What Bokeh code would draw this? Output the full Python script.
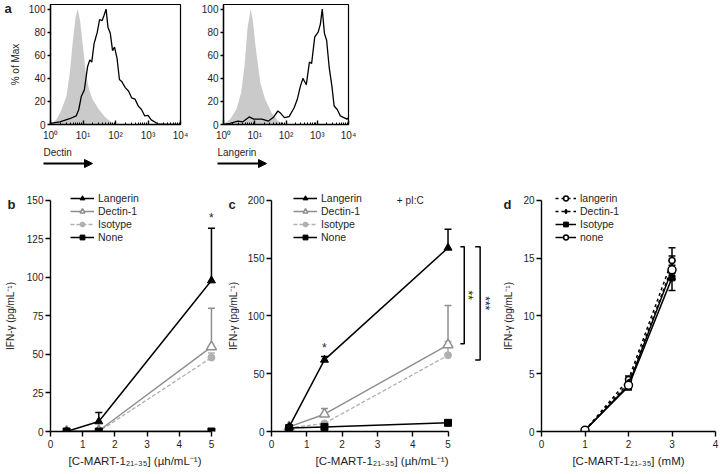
from bokeh.plotting import figure
from bokeh.models import (ColumnDataSource, Whisker, TeeHead, Legend, LegendItem,
                          Arrow, NormalHead, FixedTicker, Range1d)
from bokeh.layouts import column, row
from bokeh.embed import file_html
from bokeh.resources import INLINE
from bokeh.core.properties import value
from math import pi

FONT = "Liberation Sans"

# ---------------- panel a : histograms (x in fluorescence units, y in % of max)
dectin_iso_x = [1.0, 1.10, 1.55, 2.19, 3.09, 3.89, 4.90, 5.89, 6.92, 8.13, 9.77, 12.3, 15.5, 19.5, 30.9, 49.0, 77.6, 112]
dectin_iso_y = [0, 0.6, 4.6, 13, 24.5, 44, 73, 93, 100, 90, 70, 44, 30, 22, 13, 6, 1.7, 0]
dectin_st_x = [1.0, 1.95, 3.89, 6.17, 7.41, 8.91, 11.0, 13.8, 16.2, 18.6, 21.9, 27.5, 32.4, 38.9, 43.7, 51.3,
               58.9, 69.2, 81.3, 93.3, 112, 132, 158, 200, 251, 316, 398, 501, 631, 794, 1000, 1259, 1995, 3981, 10000]
dectin_st_y = [0.9, 2.3, 5, 7.4, 13, 24.5, 30, 50, 56, 54, 70, 80, 91, 90, 94, 100,
               84, 79, 64, 67, 57, 39, 37, 32, 29, 23, 22, 16, 13, 7.4, 8, 4, 0.6, 0, 0]
lang_iso_x = [1.0, 1.12, 1.62, 2.57, 3.63, 4.68, 5.89, 7.41, 8.71, 10.7, 15.1, 21.4, 34.7, 55.0, 89.1]
lang_iso_y = [0, 1, 4.6, 13, 27, 50, 84, 100, 90, 67, 36, 22, 10, 3, 0]
lang_st_x = [1.0, 1.62, 2.88, 4.17, 6.61, 9.33, 17.0, 27.5, 38.9, 55.0, 67.6, 89.1, 126, 182, 229, 288, 347,
             447, 562, 661, 832, 1072, 1259, 1445, 1698, 1995, 2399, 2951, 3467, 4365, 5495, 7079, 8913, 10000]
lang_st_y = [0, 1, 3, 2.3, 6.6, 4.6, 4.6, 3, 6, 11.7, 9.7, 6, 6.8, 14.5, 21.6, 33, 40,
             34.5, 54, 53, 76, 80, 87, 100, 79, 73, 50, 33, 16, 13, 7.4, 6, 4.6, 6]
hist_xticks = [1, 10, 100, 1000, 10000]
hist_xlabels = ["10\u2070", "10\u00b9", "10\u00b2", "10\u00b3", "10\u2074"]
hist_yticks = [0, 20, 40, 60, 80, 100]
hist_markers = ["Dectin", "Langerin"]

# ---------------- panels b, c : IFN-gamma vs peptide concentration
conc = [0.5, 1.5, 5]
series = ["Langerin", "Dectin-1", "Isotype", "None"]
b_lang = [0, 6.5, 98];   b_lang_err = [0, 5.8, 34]
b_dect = [0, 0.5, 55];   b_dect_err = [0, 0, 25]
b_iso = [0, 0, 48];      b_iso_err = [0, 0, 3]
b_none = [0, 0, 0]
c_lang = [4, 62, 159];   c_lang_err = [0, 3, 16]
c_dect = [4, 15, 75];    c_dect_err = [0, 5, 34]
c_iso = [3, 7, 66];      c_iso_err = [0, 0, 12]
c_none = [3, 4, 7.5]
bc_xticks = [0, 1, 2, 3, 4, 5]
b_yticks = [0, 25, 50, 75, 100, 125, 150]
c_yticks = [0, 50, 100, 150, 200]

# ---------------- panel d
conc_d = [1, 2, 3]
d_series = ["langerin", "Dectin-1", "Isotype", "none"]
d_lang = [0.1, 4.5, 14.8];  d_lang_err = [0, 0.3, 1.1]
d_dect = [0.1, 4.2, 14.2];  d_dect_err = [0, 0.3, 1.0]
d_iso = [0.1, 3.9, 13.3];   d_iso_err = [0, 0.3, 1.1]
d_none = [0.1, 4.0, 14.0];  d_none_err = [0, 0.3, 0.8]
d_xticks = [0, 1, 2, 3, 4]
d_yticks = [0, 5, 10, 15, 20]

YLAB = "IFN-\u03b3 (pg/mL\u207b\u00b9)"
XLAB_BC = "[C-MART-1\u2082\u2081\u208b\u2083\u2085] (\u00b5h/mL\u207b\u00b9)"
XLAB_D = "[C-MART-1\u2082\u2081\u208b\u2083\u2085] (mM)"

TXT = "#1e1e1e"
GRAY = "#8f8f8f"
LGRAY = "#b0b0b0"
TICK_FS = "10px"

# layout (pixels)
ROW1_H, ARROW_H, ROW2_H = 143, 27, 299
FRAME1_TOP, FRAME1_H = 4, 121
FRAME2_TOP, FRAME2_H = 22, 240          # frame of lower panels inside their canvas
AXIS_SPAN2 = 232                         # pixels from 0 to top tick of lower panels
ROW2_Y0 = ROW1_H + ARROW_H               # page y where the lower row starts


def style_axis(ax):
    ax.major_label_text_font = FONT
    ax.major_label_text_font_size = TICK_FS
    ax.major_label_text_color = TXT
    ax.axis_label_text_font = FONT
    ax.axis_label_text_font_size = "11.5px"
    ax.axis_label_text_font_style = "normal"
    ax.axis_label_text_color = TXT
    ax.axis_line_width = 1.4
    ax.major_tick_line_width = 1.4
    ax.minor_tick_line_color = None


def blank_fig(w, h, y_top, y_bottom):
    """Text-only strip; its frame is aligned with the row's plot frames (page y from y_top to y_bottom).
    Data y = -(page y) so that positions read in page pixels."""
    p = figure(width=w, height=h, x_range=Range1d(0, w), y_range=Range1d(-y_bottom, -y_top), title=None,
               output_backend="svg", toolbar_location=None,
               x_axis_location=None, y_axis_location=None, min_border=0)
    p.outline_line_color = None
    p.grid.visible = False
    return p


def put_text(p, x, page_y, text, size="10px", bold=False, angle=0, align="left", baseline="middle"):
    p.text(x=[x], y=[-page_y], text=[text], angle=angle, text_align=align, text_baseline=baseline,
           text_font=value(FONT), text_font_size=size, text_color=TXT,
           text_font_style="bold" if bold else "normal")


def hist_fig(width, left, right, iso_x, iso_y, st_x, st_y):
    p = figure(width=width, height=ROW1_H, x_axis_type="log", x_range=Range1d(1, 10000),
               y_range=Range1d(0, 104), output_backend="svg", toolbar_location=None,
               min_border_left=left, min_border_right=right, min_border_top=FRAME1_TOP,
               min_border_bottom=ROW1_H - FRAME1_TOP - FRAME1_H)
    p.varea(x=iso_x, y1=0, y2=iso_y, fill_color="#cacaca", fill_alpha=1)
    p.line(st_x, st_y, line_color="black", line_width=1.3)
    p.grid.visible = False
    p.outline_line_color = "black"
    p.outline_line_width = 1.2
    p.xaxis.ticker = FixedTicker(ticks=hist_xticks,
                                 minor_ticks=[m * t for t in hist_xticks[:-1] for m in range(2, 10)])
    p.xaxis.major_label_overrides = dict(zip(hist_xticks, hist_xlabels))
    p.yaxis.ticker = FixedTicker(ticks=hist_yticks)
    for ax in (p.xaxis[0], p.yaxis[0]):
        style_axis(ax)
    p.xaxis.major_tick_in = 4
    p.xaxis.major_tick_out = 0
    p.xaxis.minor_tick_in = 2
    p.xaxis.minor_tick_out = 0
    p.xaxis.minor_tick_line_color = "black"
    p.xaxis.major_label_standoff = 5
    p.yaxis.major_tick_out = 3
    p.yaxis.major_tick_in = 0
    p.yaxis.major_label_standoff = 2
    return p


def xy_fig(width, left, right, x_end, top_tick, xticks, yticks, xbound, xlabel):
    y_end = top_tick * FRAME2_H / AXIS_SPAN2
    p = figure(width=width, height=ROW2_H, x_range=Range1d(0, x_end), y_range=Range1d(0, y_end),
               output_backend="svg", toolbar_location=None,
               min_border_left=left, min_border_right=right,
               min_border_top=FRAME2_TOP, min_border_bottom=ROW2_H - FRAME2_TOP - FRAME2_H)
    p.grid.visible = False
    p.outline_line_color = None
    p.xaxis.bounds = (0, xbound)
    p.yaxis.bounds = (0, top_tick)
    p.xaxis.ticker = FixedTicker(ticks=xticks)
    p.yaxis.ticker = FixedTicker(ticks=yticks)
    for ax in (p.xaxis[0], p.yaxis[0]):
        style_axis(ax)
        ax.major_tick_in = 0
        ax.major_tick_out = 5
    p.xaxis.major_label_standoff = 3
    p.yaxis.major_label_standoff = 2
    p.xaxis.axis_label = xlabel
    p.xaxis.axis_label_standoff = 4
    return p


def add_whiskers(p, xs, ys, errs, color, both=False):
    pts = [(x, y, e) for x, y, e in zip(xs, ys, errs) if e > 0]
    if not pts:
        return
    src = ColumnDataSource(dict(x=[q[0] for q in pts],
                                up=[q[1] + q[2] for q in pts],
                                lo=[q[1] - q[2] if both else q[1] for q in pts]))
    p.add_layout(Whisker(source=src, base="x", upper="up", lower="lo", line_color=color, line_width=1.5,
                         upper_head=TeeHead(size=7, line_color=color, line_width=1.5),
                         lower_head=TeeHead(size=7, line_color=color, line_width=1.5) if both else None))


def add_legend(p, items, lx, gw):
    lg = Legend(items=items, location=(lx, FRAME2_H - 52), orientation="vertical",
                glyph_width=gw, glyph_height=12, label_height=12, spacing=1, padding=0, margin=0,
                label_standoff=4, label_text_font=FONT, label_text_font_size="10.5px",
                label_text_color=TXT, border_line_color=None, background_fill_alpha=0)
    p.add_layout(lg)


def bc_series(p, lang, lang_err, dect, dect_err, iso, iso_err, none, legend_x):
    add_whiskers(p, conc, iso, iso_err, LGRAY)
    add_whiskers(p, conc, dect, dect_err, GRAY)
    add_whiskers(p, conc, lang, lang_err, "black")
    r_iso_l = p.line(conc, iso, line_color=LGRAY, line_width=1.3, line_dash="4 2")
    r_iso_m = p.scatter(conc, iso, marker="circle", size=7, fill_color=LGRAY, line_color=LGRAY)
    r_dec_l = p.line(conc, dect, line_color=GRAY, line_width=1.5)
    r_dec_m = p.scatter(conc, dect, marker="triangle", size=10, fill_color="white", line_color=GRAY, line_width=1.5)
    r_non_l = p.line(conc, none, line_color="black", line_width=1.5)
    r_non_m = p.scatter(conc, none, marker="square", size=7, fill_color="black", line_color="black")
    r_lan_l = p.line(conc, lang, line_color="black", line_width=1.5)
    r_lan_m = p.scatter(conc, lang, marker="triangle", size=8, fill_color="black", line_color="black")
    items = [LegendItem(label=series[0], renderers=[r_lan_l, r_lan_m]),
             LegendItem(label=series[1], renderers=[r_dec_l, r_dec_m]),
             LegendItem(label=series[2], renderers=[r_iso_l, r_iso_m]),
             LegendItem(label=series[3], renderers=[r_non_l, r_non_m])]
    add_legend(p, items, legend_x, 24)


# ================= top row (a)
F1T, F1B = FRAME1_TOP, FRAME1_TOP + FRAME1_H
la = blank_fig(25, ROW1_H, F1T, F1B)
put_text(la, 4, 8, "a", size="13px", bold=True)
put_text(la, 15, (F1T + F1B) / 2, "% of Max", size="10px", angle=pi / 2, align="center")
a1 = hist_fig(173, 22, 18, dectin_iso_x, dectin_iso_y, dectin_st_x, dectin_st_y)
a2 = hist_fig(162, 22, 12, lang_iso_x, lang_iso_y, lang_st_x, lang_st_y)

arr = blank_fig(360, ARROW_H, ROW1_H, ROW1_H + ARROW_H)
for x0, name in zip([43, 217], hist_markers):
    put_text(arr, x0, ROW1_H + 9, name, size="10px")
    arr.add_layout(Arrow(x_start=x0, y_start=-(ROW1_H + 20), x_end=x0 + 49, y_end=-(ROW1_H + 20),
                         line_width=2, line_color="black",
                         end=NormalHead(size=8, fill_color="black", line_color="black")))

# ================= bottom row
F2T, F2B = ROW2_Y0 + FRAME2_TOP, ROW2_Y0 + FRAME2_TOP + FRAME2_H
LETTER_Y = 204
YLAB_Y = 316

lb = blank_fig(23, ROW2_H, F2T, F2B)
put_text(lb, 7, LETTER_Y, "b", size="13px", bold=True)
put_text(lb, 10, YLAB_Y, YLAB, size="10px", angle=pi / 2, align="center")

pb = xy_fig(202, 26, 6, 5.25, 150, bc_xticks, b_yticks, 5, XLAB_BC)
bc_series(pb, b_lang, b_lang_err, b_dect, b_dect_err, b_iso, b_iso_err, b_none, 20)
pb.text(x=[conc[-1]], y=[b_lang[-1] + b_lang_err[-1] + 2], text=["*"], text_align="center",
        text_baseline="bottom", text_font=value(FONT), text_font_size="12px", text_color=TXT)

lc = blank_fig(19, ROW2_H, F2T, F2B)
put_text(lc, 3, LETTER_Y, "c", size="13px", bold=True)
put_text(lc, 8, YLAB_Y, YLAB, size="10px", angle=pi / 2, align="center")

pc = xy_fig(252, 25, 4, 6.26, 200, bc_xticks, c_yticks, 5, XLAB_BC)
bc_series(pc, c_lang, c_lang_err, c_dect, c_dect_err, c_iso, c_iso_err, c_none, 22)
pc.text(x=[conc[1]], y=[c_lang[1] + c_lang_err[1] + 1], text=["*"], text_align="center",
        text_baseline="bottom", text_font=value(FONT), text_font_size="12px", text_color=TXT)
pc.text(x=[3.55], y=[c_yticks[-1]], text=["+ pI:C"], text_baseline="middle", text_align="left",
        text_font=value(FONT), text_font_size="10px", text_color=TXT)
br_x = [[5.35, 5.46, 5.46, 5.35], [5.77, 5.91, 5.91, 5.77]]
br_top = [c_lang[-1] + 1, c_lang[-1] + 1]
br_bot = [c_dect[-1] + 1, c_iso[-1] - 4]
pc.multi_line(xs=br_x, ys=[[t, t, b, b] for t, b in zip(br_top, br_bot)], line_color="black", line_width=1.5)
pc.text(x=[5.56, 6.04], y=[(t + b) / 2 for t, b in zip(br_top, br_bot)], text=["**", "***"],
        angle=-pi / 2, text_align="center", text_baseline="middle",
        text_font=value(FONT), text_font_size="12px", text_color=TXT)

ld = blank_fig(23, ROW2_H, F2T, F2B)
put_text(ld, 7, LETTER_Y, "d", size="13px", bold=True)
put_text(ld, 12, YLAB_Y, YLAB, size="10px", angle=pi / 2, align="center")

pd_ = xy_fig(200, 22, 4, 4, 20, d_xticks, d_yticks, 4, XLAB_D)
add_whiskers(pd_, conc_d, d_iso, d_iso_err, "black", both=True)
add_whiskers(pd_, conc_d, d_none, d_none_err, "black", both=True)
add_whiskers(pd_, conc_d, d_dect, d_dect_err, "black", both=True)
add_whiskers(pd_, conc_d, d_lang, d_lang_err, "black", both=True)
rl = pd_.line(conc_d, d_lang, line_color="black", line_width=1.5, line_dash="3 3")
rlm = pd_.scatter(conc_d, d_lang, marker="circle", size=6, fill_color="white", line_color="black", line_width=1.5)
rd = pd_.line(conc_d, d_dect, line_color="black", line_width=1.5, line_dash="3 3")
rdm = pd_.scatter(conc_d, d_dect, marker="diamond", size=8, fill_color="black", line_color="black")
ri = pd_.line(conc_d, d_iso, line_color="black", line_width=1.5)
rim = pd_.scatter(conc_d, d_iso, marker="square", size=6, fill_color="black", line_color="black")
rn = pd_.line(conc_d, d_none, line_color="black", line_width=1.5)
rnm = pd_.scatter(conc_d, d_none, marker="circle", size=8, fill_color="white", line_color="black", line_width=1.5)
add_legend(pd_, [LegendItem(label=d_series[0], renderers=[rl, rlm]),
                 LegendItem(label=d_series[1], renderers=[rd, rdm]),
                 LegendItem(label=d_series[2], renderers=[ri, rim]),
                 LegendItem(label=d_series[3], renderers=[rn, rnm])], 14, 21)

layout = column(row(la, a1, a2), arr, row(lb, pb, lc, pc, ld, pd_))
open("out.html", "w").write(file_html(layout, INLINE))
